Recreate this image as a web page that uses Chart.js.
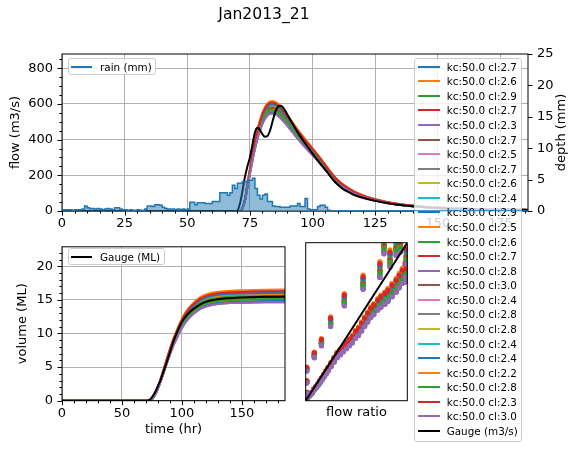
<!DOCTYPE html>
<html>
<head>
<meta charset="utf-8">
<script src="https://cdn.jsdelivr.net/npm/chart.js@4.4.1/dist/chart.umd.min.js"></script>
<style>
  body { margin: 0; background: #fff; }
  #page { position: relative; width: 573px; height: 450px; overflow: hidden; font-family: "DejaVu Sans", sans-serif; }
  canvas { position: absolute; }
  .legend { position: absolute; background: rgba(255,255,255,0.8); border: 1px solid #cccccc; border-radius: 3px; box-sizing: border-box; }
  .legend .item { position: absolute; height: 14px; line-height: 14px; font-size: 10.4px; color: #000; white-space: nowrap; }
  .legend .handle { position: absolute; height: 2px; }
</style>
</head>
<body>
<div id="page">
  <canvas id="flowChart" width="573" height="240" style="left:0px;top:0px;z-index:1"></canvas>
  <canvas id="volChart" width="300" height="220" style="left:0px;top:230px;z-index:1"></canvas>
  <canvas id="ratioChart" width="120" height="200" style="left:300px;top:230px;z-index:1"></canvas>
  <div id="modelLegend" class="legend" style="left:414px;top:58px;width:108px;height:384px;z-index:2"></div>
  <canvas id="rainChart" width="573" height="240" style="left:0px;top:0px;z-index:3"></canvas>
  <div id="rainLegend" class="legend" style="left:68px;top:58px;width:88px;height:17px;z-index:4"></div>
  <div id="volLegend" class="legend" style="left:68px;top:248px;width:97px;height:17px;z-index:4"></div>
</div>
<script>
const FONT = "DejaVu Sans";
const tab10 = ["#1f77b4", "#ff7f0e", "#2ca02c", "#d62728", "#9467bd", "#8c564b", "#e377c2", "#7f7f7f", "#bcbd22", "#17becf"];

// model runs (legend order)
const modelCl   = [2.7, 2.6, 2.9, 2.7, 2.3, 2.7, 2.5, 2.7, 2.6, 2.4, 2.9, 2.5, 2.6, 2.7, 2.8, 3.0, 2.4, 2.8, 2.8, 2.4, 2.4, 2.2, 2.8, 2.3, 3.0];
// peak flow of each run (m3/s)
const modelPeak = [573, 582, 556, 573, 608, 573, 591, 573, 582, 599, 556, 591, 582, 573, 565, 547, 599, 565, 565, 599, 599, 617, 565, 608, 547];

// hydrograph (m3/s)
const flowHours = [0, 69, 70, 71, 72, 73, 74, 75, 76, 77, 78, 79, 80, 81, 82, 83, 84, 85, 86, 87, 88, 89, 90,
                   92, 94, 96, 98, 100, 102, 104, 106, 108, 110, 112, 114, 116, 118, 120,
                   123, 126, 130, 135, 140, 145, 150, 160, 170, 186];
const gaugeFlow = [0, 0, 2, 40, 110, 190, 250, 300, 370, 440, 466, 455, 430, 416, 420, 450, 500, 550, 580, 590, 585, 565, 540,
                   490, 442, 400, 360, 322, 285, 250, 215, 178, 148, 125, 108, 94, 83, 74,
                   63, 54, 44, 34, 26, 21, 17, 12, 9, 6];
const modelFlow = [0, 0, 0, 0, 15, 60, 140, 220, 300, 370, 430, 480, 520, 550, 570, 580, 582, 578, 570, 558, 542, 525, 507,
                   470, 433, 398, 365, 333, 300, 265, 230, 195, 165, 143, 124, 108, 95, 84,
                   70, 59, 47, 36, 28, 22, 18, 12, 9, 6];

// hourly rain (mm), hours 0..185
const rainDepth = [
  0.2, 0.2, 0.2, 0.2, 0.1, 0.2, 0.2, 0.2, 0.3, 0.8,
  0.5, 0.4, 0.4, 0.3, 0.4, 0.3, 0.2, 0.3, 0.4, 0.3,
  0.2, 0.5, 0.5, 0.3, 0.2, 0.2, 0.1, 0.2, 0.1, 0.1,
  0.2, 0.1, 0.1, 0.3, 0.8, 0.8, 0.7, 1.0, 1.0, 0.9,
  0.6, 0.4, 0.3, 0.3, 0.3, 0.2, 0.3, 0.2, 0.3, 0.2,
  0.3, 1.4, 1.4, 1.0, 1.3, 1.3, 1.3, 1.2, 1.2, 1.2,
  1.5, 1.5, 1.5, 2.9, 2.9, 2.9, 2.5, 2.9, 4.1, 3.6,
  4.4, 4.4, 4.7, 4.7, 4.9, 4.9, 5.2, 3.6, 2.5, 1.9,
  2.5, 2.7, 1.5, 1.5, 0.8, 0.7, 0.7, 0.6, 0.6, 0.6,
  0.6, 0.8, 0.8, 0.8, 1.2, 0.7, 0.7, 2.0, 0.3, 0.2,
  0.2, 0.2, 0.7, 0.9, 0.9, 0.6, 0.1, 0, 0, 0,
  0, 0, 0, 0, 0, 0, 0, 0, 0, 0,
  0, 0, 0, 0, 0, 0, 0, 0, 0, 0,
  0, 0, 0, 0, 0, 0, 0, 0, 0, 0,
  0, 0, 0, 0, 0, 0, 0, 0, 0, 0,
  0, 0, 0, 0, 0, 0, 0, 0, 0, 0,
  0, 0, 0, 0, 0, 0, 0, 0, 0, 0,
  0, 0, 0, 0, 0, 0, 0, 0, 0, 0,
  0, 0, 0, 0, 0, 0
];

// cumulative volume (ML)
const volHours = [0, 70, 72, 74, 76, 78, 80, 82, 84, 86, 88, 90, 92, 94, 96, 98, 100, 103, 106, 110, 115, 120, 125, 130, 140, 150, 160, 170, 186];
const gaugeVol = [0, 0, 0.05, 0.3, 0.75, 1.4, 2.2, 3.0, 4.0, 5.0, 6.1, 7.2, 8.3, 9.3, 10.2, 11.0, 11.7, 12.5, 13.1, 13.7, 14.3, 14.7, 14.95, 15.1, 15.25, 15.35, 15.4, 15.45, 15.5];
const modelVol = [0, 0, 0, 0.1, 0.45, 1.1, 1.9, 2.9, 4.0, 5.1, 6.2, 7.3, 8.3, 9.2, 10.0, 10.8, 11.5, 12.4, 13.1, 13.8, 14.5, 14.9, 15.15, 15.3, 15.45, 15.5, 15.55, 15.58, 15.6];

// flow ratio panel (axes 0..1)
const ratioX = [0.01, 0.01, 0.01, 0.085, 0.155, 0.245, 0.38, 0.565, 0.73, 0.77, 0.83, 0.89, 0.93, 0.99, 0.99,
                0.00, 0.02, 0.04, 0.06, 0.08, 0.10, 0.12, 0.14, 0.16, 0.18, 0.20, 0.22, 0.25, 0.28, 0.31, 0.34, 0.37,
                0.40, 0.43, 0.46, 0.49, 0.52, 0.55, 0.58, 0.61, 0.64, 0.67, 0.71, 0.74, 0.78, 0.81, 0.85, 0.89, 0.92, 0.95, 0.98];
const ratioY = [0.05, 0.12, 0.20, 0.29, 0.37, 0.50, 0.64, 0.75, 0.83, 0.99, 0.90, 0.98, 1.00, 0.92, 0.80,
                0.00, 0.02, 0.035, 0.05, 0.07, 0.085, 0.10, 0.12, 0.14, 0.16, 0.18, 0.20, 0.23, 0.26, 0.29, 0.31, 0.33,
                0.35, 0.37, 0.39, 0.42, 0.44, 0.47, 0.50, 0.53, 0.56, 0.58, 0.61, 0.63, 0.65, 0.67, 0.70, 0.73, 0.76, 0.79, 0.83];

const basePeak = Math.max(...modelFlow);
const modelLabels = modelCl.map(cl => `kc:50.0 cl:${cl.toFixed(1)}`);

// matplotlib-like frame, tick marks and right-hand label
const mplFrame = {
  id: "mplFrame",
  afterDraw(chart, args, opts) {
    const { ctx, chartArea: a } = chart;
    ctx.save();
    ctx.strokeStyle = "#000";
    ctx.lineWidth = 1;
    ctx.beginPath();
    (opts.ticks || []).forEach(t => {
      const s = chart.scales[t.id];
      const n = Math.round((s.max - s.min) / t.minor);
      for (let k = 0; k <= n; k++) {
        const v = s.min + k * t.minor;
        if (v > s.max + 1e-9) break;
        const isMajor = Math.abs(v / t.major - Math.round(v / t.major)) < 1e-6;
        const len = isMajor ? 4.5 : 2.6;
        const p = Math.round(s.getPixelForValue(v)) + 0.5;
        if (s.isHorizontal()) { ctx.moveTo(p, a.bottom); ctx.lineTo(p, a.bottom + len); }
        else if (s.position === "right") { ctx.moveTo(a.right, p); ctx.lineTo(a.right + len, p); }
        else { ctx.moveTo(a.left, p); ctx.lineTo(a.left - len, p); }
      }
    });
    ctx.stroke();
    if (opts.box) ctx.strokeRect(a.left, a.top, a.right - a.left, a.bottom - a.top);
    if (opts.rightTitle) {
      ctx.fillStyle = "#000";
      ctx.font = `13px "${FONT}"`;
      ctx.textAlign = "center";
      ctx.textBaseline = "middle";
      ctx.translate(opts.rightTitleX, (a.top + a.bottom) / 2);
      ctx.rotate(-Math.PI / 2);
      ctx.fillText(opts.rightTitle, 0, 0);
    }
    ctx.restore();
  }
};

const tickFont = { family: FONT, size: 13 };
const gridStyle = { color: "#b0b0b0", lineWidth: 1, drawTicks: false };
const baseOpts = { responsive: false, animation: false, devicePixelRatio: 1 };

// ---- top: flow ----
const flowSets = modelLabels.map((label, i) => ({
  label,
  data: flowHours.map((h, j) => ({ x: h, y: modelFlow[j] * modelPeak[i] / basePeak })),
  borderColor: tab10[i % 10], borderWidth: 2, pointRadius: 0,
  cubicInterpolationMode: "monotone", order: -i
}));
flowSets.push({
  label: "Gauge (m3/s)",
  data: flowHours.map((h, j) => ({ x: h, y: gaugeFlow[j] })),
  borderColor: "#000", borderWidth: 2, pointRadius: 0,
  cubicInterpolationMode: "monotone", order: -100
});

new Chart(document.getElementById("flowChart"), {
  type: "line",
  data: { datasets: flowSets },
  options: {
    ...baseOpts,
    layout: { padding: { right: 45 } },
    plugins: {
      legend: { display: false }, tooltip: { enabled: false },
      title: { display: true, text: "Jan2013_21", color: "#000", font: { family: FONT, size: 15.6, weight: "normal" }, padding: { top: 6, bottom: 29.28 } },
      mplFrame: { box: true, ticks: [{ id: "x", major: 25, minor: 5 }, { id: "y", major: 200, minor: 50 }] }
    },
    scales: {
      x: {
        type: "linear", min: 0, max: 186, border: { display: false }, grid: gridStyle,
        ticks: { stepSize: 25, includeBounds: false, autoSkip: false, maxRotation: 0, padding: 5, color: "#000", font: tickFont },
        afterFit: s => { s.height = 29; }
      },
      y: {
        min: 0, max: 880, border: { display: false }, grid: gridStyle,
        ticks: { stepSize: 200, includeBounds: false, padding: 9, color: "#000", font: tickFont },
        title: { display: true, text: "flow (m3/s)", color: "#000", font: tickFont, padding: { top: 8, bottom: 0 } },
        afterFit: s => { s.width = 62; }
      }
    }
  },
  plugins: [mplFrame]
});

// ---- top: rain on the twin axis ----
const rainPoints = rainDepth.map((d, t) => ({ x: t, y: d }));
rainPoints.push({ x: rainDepth.length, y: rainDepth[rainDepth.length - 1] });

new Chart(document.getElementById("rainChart"), {
  type: "line",
  data: {
    datasets: [{
      label: "rain (mm)", data: rainPoints, stepped: "before",
      borderColor: "#1f77b4", borderWidth: 1.5, pointRadius: 0,
      fill: "origin", backgroundColor: "rgba(31,119,180,0.5)"
    }]
  },
  options: {
    ...baseOpts,
    layout: { padding: { left: 62, top: 54, bottom: 29 } },
    plugins: {
      legend: { display: false }, tooltip: { enabled: false },
      mplFrame: { ticks: [{ id: "y", major: 5, minor: 5 }], rightTitle: "depth (mm)", rightTitleX: 562 }
    },
    scales: {
      x: { type: "linear", min: 0, max: 186, display: false },
      y: {
        position: "right", min: 0, max: 25, border: { display: false },
        grid: { display: false, drawTicks: false },
        ticks: { stepSize: 5, includeBounds: false, padding: 9, color: "#000", font: tickFont },
        afterFit: s => { s.width = 45; }
      }
    }
  },
  plugins: [mplFrame]
});

// ---- bottom left: volume ----
const volSets = modelLabels.map((label, i) => ({
  label,
  data: volHours.map((h, j) => ({ x: h, y: modelVol[j] * modelPeak[i] / basePeak })),
  borderColor: tab10[i % 10], borderWidth: 2, pointRadius: 0,
  cubicInterpolationMode: "monotone", order: -i
}));
volSets.push({
  label: "Gauge (ML)",
  data: volHours.map((h, j) => ({ x: h, y: gaugeVol[j] })),
  borderColor: "#000", borderWidth: 2, pointRadius: 0,
  cubicInterpolationMode: "monotone", order: -100
});

new Chart(document.getElementById("volChart"), {
  type: "line",
  data: { datasets: volSets },
  options: {
    ...baseOpts,
    layout: { padding: { top: 13.3, right: 15 } },
    plugins: {
      legend: { display: false }, tooltip: { enabled: false },
      mplFrame: { box: true, ticks: [{ id: "x", major: 50, minor: 10 }, { id: "y", major: 5, minor: 1 }] }
    },
    scales: {
      x: {
        type: "linear", min: 0, max: 186, border: { display: false }, grid: gridStyle,
        ticks: { stepSize: 50, includeBounds: false, autoSkip: false, maxRotation: 0, padding: 5, color: "#000", font: tickFont },
        title: { display: true, text: "time (hr)", color: "#000", font: tickFont, padding: { top: 0, bottom: 12.2 } },
        afterFit: s => { s.height = 49.3; }
      },
      y: {
        min: 0, max: 22.9, border: { display: false }, grid: gridStyle,
        ticks: { stepSize: 5, includeBounds: false, padding: 9, color: "#000", font: tickFont },
        title: { display: true, text: "volume (ML)", color: "#000", font: tickFont, padding: { top: 15.2, bottom: 0 } },
        afterFit: s => { s.width = 62; }
      }
    }
  },
  plugins: [mplFrame]
});

// ---- bottom right: flow ratio ----
const ratioSets = modelLabels.map((label, i) => ({
  label, type: "scatter",
  data: ratioX.map((x, j) => ({ x, y: ratioY[j] * modelPeak[i] / basePeak })),
  backgroundColor: tab10[i % 10], borderWidth: 0, pointRadius: 2.6, clip: 0, order: -i
}));
ratioSets.push({
  label: "1:1", type: "line", data: [{ x: 0, y: 0 }, { x: 1, y: 1 }],
  borderColor: "#000", borderWidth: 2, pointRadius: 0, clip: 0, order: -100
});

new Chart(document.getElementById("ratioChart"), {
  type: "scatter",
  data: { datasets: ratioSets },
  options: {
    ...baseOpts,
    layout: { padding: { left: 5.7, top: 12.7, right: 12.7 } },
    plugins: {
      legend: { display: false }, tooltip: { enabled: false },
      mplFrame: { box: true }
    },
    scales: {
      x: {
        type: "linear", min: 0, max: 1, border: { display: false },
        grid: { display: false }, ticks: { display: false },
        title: { display: true, text: "flow ratio", color: "#000", font: tickFont, padding: { top: 0, bottom: 9.2 } },
        afterFit: s => { s.height = 29.3; }
      },
      y: { min: 0, max: 1, display: false }
    }
  },
  plugins: [mplFrame]
});

// ---- legends ----
function fillLegend(el, rows, firstY, pitch, handleX, handleW, textX) {
  rows.forEach((r, i) => {
    const y = firstY + i * pitch;
    el.insertAdjacentHTML("beforeend",
      `<div class="handle" style="left:${handleX}px;top:${y - 1}px;width:${handleW}px;background:${r.color}"></div>` +
      `<div class="item" style="left:${textX}px;top:${y - 7}px">${r.label}</div>`);
  });
}

fillLegend(document.getElementById("modelLegend"),
  modelLabels.map((label, i) => ({ label, color: tab10[i % 10] })).concat([{ label: "Gauge (m3/s)", color: "#000" }]),
  7.7, 14.57, 3, 22, 31.7);
fillLegend(document.getElementById("rainLegend"), [{ label: "rain (mm)", color: "#1f77b4" }], 7.7, 0, 1.5, 21, 31);
fillLegend(document.getElementById("volLegend"), [{ label: "Gauge (ML)", color: "#000" }], 7.5, 0, 1.5, 21, 31);
</script>
</body>
</html>
